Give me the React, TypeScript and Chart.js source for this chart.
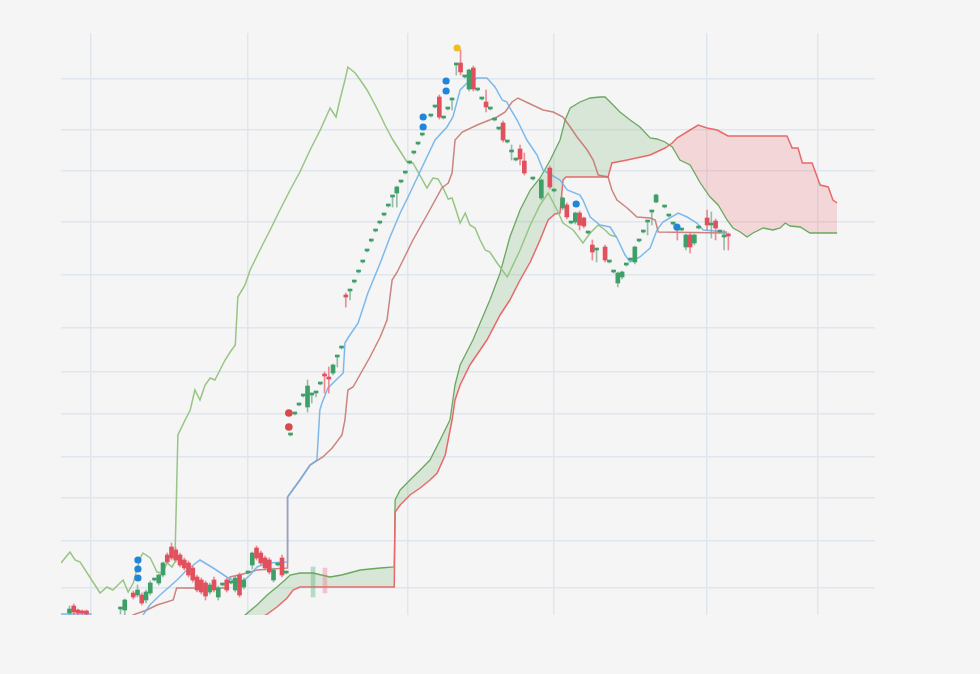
import React, { useEffect, useRef } from "react";
import { Chart, registerables } from "chart.js";
Chart.register(...registerables);

// ---- candles (index, open, high, low, close) ----
const candleIdx = [
  2, 3, 4, 5, 6, 14, 15, 17, 18, 19,
  20, 21, 22, 23, 24, 25, 26, 27, 28, 29,
  30, 31, 32, 33, 34, 35, 36, 37, 38, 39,
  40, 41, 42, 43, 44, 45, 46, 47, 48, 49,
  50, 51, 52, 53, 54, 55, 56, 57, 58, 59,
  60, 61, 62, 63, 64, 65, 66, 67, 68, 69,
  70, 71, 72, 73, 74, 75, 76, 77, 78, 79,
  80, 81, 82, 83, 84, 85, 87, 88, 89, 90,
  91, 92, 93, 94, 95, 96, 97, 98, 99, 100,
  101, 102, 103, 104, 105, 106, 107, 108, 109, 111,
  113, 115, 116, 118, 119, 120, 121, 122, 123, 124,
  125, 126, 128, 129, 130, 131, 132, 133, 134, 135,
  136, 137, 138, 139, 140, 142, 143, 144, 145, 146,
  147, 148, 149, 150, 152, 153, 154, 155, 156, 157,
];
const opens = [
  0.2, 0.9, 0.5, 0.4, 0.4, 0.6, 0.5, 2.2, 2.0, 2.0,
  1.5, 2.2, 3.5, 3.2, 4.0, 6.0, 6.8, 6.5, 6.0, 5.5,
  5.2, 4.7, 3.8, 3.5, 3.2, 2.3, 3.5, 1.8, 3.0, 3.5,
  3.2, 2.5, 4.0, 2.8, 4.2, 5.0, 6.7, 6.2, 5.7, 5.5,
  3.5, 5.0, 5.7, 4.2, 18.0, 20.1, 21.0, 21.9, 20.8, 22.0,
  22.2, 23.1, 24.1, 23.8, 24.2, 25.8, 26.7, 32.0, 32.4, 33.3,
  34.3, 35.3, 36.4, 37.4, 38.4, 39.2, 40.0, 40.9, 41.8, 42.2,
  43.3, 44.2, 45.2, 46.2, 47.1, 48.0, 49.9, 50.8, 51.8, 49.7,
  50.6, 51.5, 55.0, 55.2, 53.8, 52.6, 54.7, 52.5, 51.6, 51.3,
  50.6, 49.5, 48.6, 49.2, 47.3, 46.3, 45.5, 46.6, 45.4, 43.6,
  41.7, 44.7, 42.4, 40.7, 41.0, 39.2, 39.3, 40.2, 39.7, 38.2,
  37.0, 36.5, 36.8, 35.3, 34.3, 33.2, 33.8, 35.0, 35.5, 35.3,
  37.4, 38.3, 39.3, 40.3, 41.3, 40.8, 39.9, 39.1, 38.8, 38.5,
  36.8, 38.0, 37.2, 38.7, 39.7, 39.0, 39.4, 38.3, 37.8, 38.1,
];
const highs = [
  0.9, 1.1, 0.6, 0.5, 0.5, 0.8, 1.6, 2.4, 3.0, 2.2,
  2.5, 3.4, 3.6, 4.1, 5.3, 6.2, 7.2, 6.7, 6.2, 5.7,
  5.4, 4.9, 4.0, 3.7, 3.4, 3.2, 3.8, 2.9, 3.1, 3.7,
  3.3, 3.9, 4.2, 3.7, 4.3, 6.3, 6.9, 6.4, 5.9, 5.7,
  4.7, 5.1, 6.0, 4.3, 18.1, 20.2, 21.1, 22.0, 23.5, 22.2,
  22.3, 23.2, 24.3, 24.8, 25.1, 25.9, 26.8, 32.2, 32.5, 33.4,
  34.4, 35.4, 36.5, 37.5, 38.5, 39.3, 40.1, 41.0, 41.9, 42.9,
  43.4, 44.3, 45.3, 46.3, 47.2, 48.1, 50.0, 50.9, 52.0, 49.8,
  50.7, 51.7, 55.2, 56.5, 53.9, 54.6, 54.9, 52.6, 51.7, 52.5,
  50.7, 49.6, 48.7, 49.4, 47.4, 47.0, 45.6, 47.0, 46.2, 43.7,
  43.6, 44.9, 42.5, 41.8, 41.2, 39.3, 40.3, 40.4, 39.8, 38.3,
  37.5, 36.6, 37.0, 35.4, 34.4, 34.3, 34.4, 35.1, 35.6, 36.9,
  37.5, 38.4, 39.4, 40.4, 42.1, 40.9, 40.0, 39.2, 38.9, 38.6,
  38.1, 38.2, 38.1, 38.8, 40.5, 40.3, 39.6, 38.4, 38.5, 38.2,
];
const lows = [
  -0.3, -0.2, -0.2, -0.3, -0.3, 0.1, 0.0, 1.6, 1.8, 1.0,
  1.2, 2.0, 3.4, 3.0, 3.8, 5.2, 5.5, 5.3, 4.8, 4.5,
  3.8, 3.3, 2.3, 2.1, 1.5, 2.1, 2.3, 1.5, 2.9, 2.3,
  3.1, 2.3, 1.8, 2.6, 4.1, 4.6, 5.5, 5.0, 4.5, 4.1,
  3.3, 4.9, 3.8, 4.1, 17.9, 20.0, 20.9, 21.8, 20.3, 21.2,
  21.8, 23.0, 22.2, 22.2, 24.0, 24.8, 26.6, 30.8, 31.5, 33.2,
  34.2, 35.2, 36.3, 37.3, 38.3, 39.1, 39.9, 40.8, 40.8, 40.8,
  43.2, 44.1, 45.1, 46.1, 47.0, 47.9, 49.8, 50.7, 49.6, 49.6,
  50.5, 50.5, 54.0, 54.0, 53.7, 52.4, 52.4, 52.4, 51.5, 50.3,
  50.5, 49.4, 48.5, 47.3, 47.2, 45.5, 45.4, 45.0, 44.0, 43.5,
  41.5, 42.6, 42.3, 40.5, 39.6, 39.1, 39.1, 38.5, 38.7, 38.1,
  35.5, 35.3, 35.3, 35.2, 34.2, 32.8, 33.6, 34.9, 35.4, 35.1,
  37.3, 38.2, 38.0, 39.0, 41.2, 40.7, 39.8, 39.0, 37.5, 38.4,
  36.5, 36.2, 37.0, 38.6, 38.5, 37.7, 37.5, 38.2, 36.5, 36.5,
];
const closes = [
  0.6, 0.3, 0.2, 0.2, 0.1, 0.6, 1.5, 1.8, 2.5, 1.2,
  2.3, 3.2, 3.5, 4.0, 5.2, 5.3, 5.7, 5.5, 5.0, 4.7,
  4.0, 3.5, 2.5, 2.3, 1.9, 3.0, 2.5, 2.7, 3.0, 2.5,
  3.2, 3.7, 2.0, 3.5, 4.2, 6.2, 5.7, 5.2, 4.7, 4.3,
  4.5, 5.0, 4.0, 4.2, 18.0, 20.1, 21.0, 21.9, 22.9, 22.0,
  22.2, 23.1, 23.9, 23.6, 25.0, 25.8, 26.7, 31.8, 32.4, 33.3,
  34.3, 35.3, 36.4, 37.4, 38.4, 39.2, 40.0, 40.9, 41.8, 42.8,
  43.3, 44.2, 45.2, 46.2, 47.1, 48.0, 49.9, 50.8, 49.8, 49.7,
  50.6, 51.5, 55.0, 54.3, 53.8, 54.5, 52.6, 52.5, 51.6, 50.8,
  50.6, 49.5, 48.6, 47.5, 47.3, 46.3, 45.5, 45.6, 44.2, 43.6,
  43.5, 42.8, 42.4, 41.7, 39.8, 39.2, 40.2, 39.0, 38.9, 38.2,
  36.3, 36.5, 35.5, 35.3, 34.3, 34.2, 34.3, 35.0, 35.5, 36.8,
  37.4, 38.3, 39.3, 40.3, 42.0, 40.8, 39.9, 39.1, 38.5, 38.5,
  38.0, 36.8, 38.0, 38.7, 39.0, 39.0, 38.7, 38.3, 37.8, 37.9,
];

// faint (ghost) bars
const shadowIdx = [59.3, 62.1];
const shadowLow = [1.8, 2.2];
const shadowHigh = [4.8, 4.7];
const shadowUp = [true, false];

// ---- Ichimoku lines: [index, value] ----
const tenkan: [number, number][] = [
  [0, 0.1], [7, 0.1], [8, -1.5], [18, -1.5], [19.3, 0], [20.9, 1.0], [23.3, 2.0], [27.3, 3.5],
  [29.6, 4.5], [32.7, 5.5], [35.8, 4.7], [39, 3.8], [42.1, 3.1], [44.5, 4.0], [46.1, 4.8],
  [48.5, 5.2], [53.2, 5.3], [53.3, 11.8], [56.2, 13.5], [58.6, 15.0], [60.2, 15.5], [60.9, 20.5],
  [61.4, 21.2], [62.8, 22.7], [66.4, 24.2], [66.8, 27.2], [67.5, 27.7], [69.9, 29.2], [72.2, 32.2],
  [75.1, 35.2], [77.4, 37.8], [79.8, 40.2], [82.1, 42.2], [85.2, 45.0], [88, 47.5], [90.8, 48.8],
  [92.2, 49.8], [93.9, 52.5], [95.5, 53.2], [97.9, 53.7], [100.2, 53.7], [102.1, 52.8],
  [103.8, 51.5], [104.9, 51.3], [105.6, 50.7], [107.3, 49.5], [109.6, 47.5], [112, 46.0],
  [113.4, 44.5], [117.4, 43.5], [119.1, 42.5], [122.1, 42.0], [122.8, 41.5], [124.5, 39.8],
  [126.8, 39.0], [129.2, 38.8], [130.8, 37.7], [132.7, 36.0], [133.9, 35.3], [136.2, 35.8],
  [138.6, 36.7], [140.2, 38.5], [141.6, 39.3], [145.2, 40.2], [147.3, 39.8], [149.6, 39.2],
  [151.1, 38.5], [156.7, 38.3],
];
const kijun: [number, number][] = [
  [0, -2], [16, -1], [16.9, 0], [20.2, 0.5], [22.6, 1.0], [26.4, 1.5], [27.2, 2.7], [39, 2.7],
  [39.8, 3.8], [43.8, 4.2], [46.1, 4.5], [53.2, 4.7], [53.3, 11.8], [56.2, 13.5], [58.6, 15.0],
  [61.6, 15.8], [63.8, 16.7], [66.1, 18.0], [66.8, 19.5], [67.5, 22.5], [68.7, 22.8], [72.7, 25.8],
  [75.1, 27.8], [76.7, 29.5], [77.9, 33.5], [79.1, 34.3], [82.8, 37.5], [86.1, 40.0], [89.6, 42.7],
  [91.1, 43.2], [92, 44.2], [92.7, 47.5], [94.4, 48.3], [97.9, 49.0], [102.6, 49.8], [104.5, 50.3],
  [106.1, 51.3], [107.5, 51.7], [109.9, 51.2], [113.4, 50.5], [115.8, 50.3], [118.1, 49.8],
  [119.8, 48.8], [121.4, 47.8], [123.8, 46.5], [125.2, 45.5], [126.4, 44.0], [128.7, 43.8],
  [129.6, 42.5], [130.8, 41.5], [133.2, 40.7], [135.5, 39.8], [138.6, 39.7], [139.8, 39.5],
  [140.5, 38.3], [156.7, 38.2],
];
const chikou: [number, number][] = [
  [0, 5.2], [2.1, 6.3], [3.3, 5.5], [4.5, 5.3], [9.2, 2.2], [10.8, 2.8], [12.2, 2.5], [13.4, 3.0],
  [14.6, 3.5], [15.8, 2.3], [17, 3.2], [18.6, 5.7], [19.3, 6.2], [21, 5.7], [22.6, 4.3], [23.8, 4.2],
  [25, 5.2], [26.1, 4.8], [26.8, 5.3], [27.5, 18.0], [29.2, 19.5], [30.4, 20.5], [31.5, 22.5],
  [32.7, 21.5], [33.9, 23.0], [35.1, 23.7], [36.2, 23.5], [37.4, 24.5], [38.6, 25.5], [39.8, 26.3],
  [41, 27.0], [41.6, 31.8], [43.3, 33.0], [44.5, 34.5], [46.8, 36.5], [49.2, 38.5], [51.5, 40.5],
  [53.9, 42.5], [56.2, 44.3], [58.6, 46.5], [61, 48.5], [63.3, 50.7], [64.7, 49.8], [65.6, 51.5],
  [66.8, 53.5], [67.5, 54.8], [69.2, 54.2], [70.4, 53.5], [72, 52.5], [73.9, 51.0], [75.1, 50.0],
  [76.2, 49.0], [78.1, 47.5], [81.4, 45.3], [82.8, 45.2], [86.1, 42.7], [87.5, 43.7], [88.7, 43.6],
  [89.9, 42.7], [91.1, 41.6], [92, 41.7], [92.7, 40.8], [93.9, 39.2], [95.1, 40.2], [96.2, 39.0],
  [97.4, 38.7], [98.6, 37.5], [99.8, 36.5], [100.9, 36.3], [102.6, 35.2], [103.8, 34.5], [105, 33.8],
  [108, 36.5], [110.4, 39.0], [112.7, 41.0], [114.6, 42.2], [116.7, 40.5], [118.1, 39.2],
  [120.5, 38.5], [122.8, 37.2], [124.5, 38.2], [126.4, 39.0], [128, 38.5], [129.2, 38.0], [130.8, 37.8],
];
const spanA: [number, number][] = [
  [30, -3], [42.5, -0.5], [43.3, 0], [46.1, 1.0], [48.5, 2.0], [50.8, 2.8], [52.7, 3.5], [53.9, 4.0],
  [56.2, 4.2], [59.3, 4.2], [63.3, 3.8], [66, 4.0], [70.4, 4.5], [75.1, 4.7], [78.4, 4.8],
  [78.6, 11.5], [79.8, 12.5], [82.1, 13.5], [84.5, 14.5], [86.8, 15.5], [89.2, 17.5], [91.5, 19.5],
  [92.7, 23.0], [93.9, 25.0], [96.9, 27.5], [100.9, 31.5], [103.3, 34.2], [105.6, 37.8], [108, 40.5],
  [110.4, 42.5], [112.7, 43.7], [115.1, 45.5], [117.4, 47.5], [118.6, 49.5], [119.8, 50.7],
  [122.1, 51.3], [124.5, 51.7], [126.8, 51.8], [128, 51.8], [129.2, 51.3], [131.5, 50.3],
  [133.9, 49.5], [136.2, 48.8], [138.6, 47.7], [140.2, 47.6], [142.1, 47.3], [143.8, 46.8],
  [145.6, 45.5], [148, 45.0], [150.4, 43.2], [152.7, 41.8], [154.6, 41.0], [156.7, 39.5],
  [158.1, 38.7], [159.8, 38.3], [161.4, 37.8], [162.8, 38.2], [165.2, 38.7], [167.5, 38.5],
  [169.2, 38.7], [170.4, 39.2], [171.5, 38.9], [173.9, 38.8], [176.2, 38.2], [182.6, 38.2],
];
const spanB: [number, number][] = [
  [30, -4], [48.2, 0], [50.8, 0.8], [53.2, 1.7], [54.6, 2.5], [56.2, 2.8], [78.4, 2.8], [78.6, 10.3],
  [79.8, 11.0], [82.1, 12.0], [84.5, 12.7], [86.8, 13.5], [88.5, 14.2], [90.4, 16.0], [92, 19.5],
  [92.7, 21.5], [93.9, 23.0], [96.2, 25.0], [98.6, 26.5], [100.2, 27.5], [103.3, 30.0],
  [105.6, 31.5], [108, 33.5], [110.4, 35.3], [112.7, 37.5], [114.6, 39.5], [116.2, 40.1],
  [117.4, 40.2], [118.1, 43.5], [118.8, 43.8], [128.7, 43.8], [129.6, 45.2], [133.2, 45.5],
  [138.6, 46.0], [142.1, 46.7], [143.8, 47.2], [144.9, 47.7], [148, 48.5], [149.9, 49.0],
  [152, 48.7], [154.4, 48.5], [156.9, 47.9], [170.8, 47.9], [172, 46.7], [173.4, 46.7],
  [174.4, 45.2], [176.7, 45.2], [178.6, 43.0], [180.5, 42.8], [181.6, 41.5], [182.6, 41.2],
];

// ---- signal markers ----
const blueMarkX = [18.1, 18.1, 18.1, 85.2, 85.2, 90.6, 90.6, 121.2, 144.9];
const blueMarkY = [5.5, 4.6, 3.7, 49.8, 48.8, 53.4, 52.4, 41.1, 38.8];
const redMarkX = [53.6, 53.6];
const redMarkY = [20.2, 18.8];
const goldMarkX = [93.2];
const goldMarkY = [56.7];

// ---- grid ticks ----
const xGrid = [7, 44, 81.5, 116, 152, 178];
const yGrid = [2.7, 7.4, 11.7, 15.8, 20.1, 24.3, 28.7, 34.0, 39.3, 44.4, 48.5, 53.6];

const BG = "#f5f5f5";
const GRID = "#e0e6ed";
const UP = "#3f9f69";
const DOWN = "#e1505d";

const pts = (arr: [number, number][]) => arr.map(([x, y]) => ({ x, y }));

export default function App() {
  const ref = useRef<HTMLCanvasElement>(null);
  useEffect(() => {
    document.body.style.margin = "0";
    document.body.style.background = BG;
    const isUp = candleIdx.map((_, k) => closes[k] >= opens[k]);
    const datasets: any[] = [
      {
        type: "bar",
        data: candleIdx.map((x, k) => ({ x, y: [opens[k], closes[k]] })),
        backgroundColor: isUp.map((u) => (u ? UP : DOWN)),
        barThickness: 4,
        minBarLength: 2,
        grouped: false,
        clip: 0,
        order: 2,
      },
      {
        type: "bar",
        data: candleIdx.map((x, k) => ({ x, y: [lows[k], highs[k]] })),
        backgroundColor: isUp.map((u) => (u ? "rgba(120,170,145,0.75)" : "rgba(236,120,132,0.85)")),
        barThickness: 1,
        grouped: false,
        clip: 0,
        order: 3,
      },
      {
        type: "bar",
        data: shadowIdx.map((x, k) => ({ x, y: [shadowLow[k], shadowHigh[k]] })),
        backgroundColor: shadowUp.map((u) => (u ? "rgba(70,170,110,0.35)" : "rgba(235,110,125,0.35)")),
        barThickness: 4,
        grouped: false,
        clip: 0,
        order: 3,
      },
      {
        type: "line",
        data: pts(tenkan),
        borderColor: "rgba(110,178,235,0.9)",
        borderWidth: 1.5,
        pointRadius: 0,
        order: 4,
      },
      {
        type: "line",
        data: pts(kijun),
        borderColor: "rgba(196,112,105,0.85)",
        borderWidth: 1.5,
        pointRadius: 0,
        order: 5,
      },
      {
        type: "line",
        data: pts(chikou),
        borderColor: "#97c583",
        borderWidth: 1.5,
        pointRadius: 0,
        order: 6,
      },
      {
        type: "line",
        data: pts(spanB),
        borderColor: "#e8696a",
        borderWidth: 1.5,
        pointRadius: 0,
        order: 7,
      },
      {
        type: "line",
        data: pts(spanA),
        borderColor: "#6aa85e",
        borderWidth: 1.3,
        pointRadius: 0,
        fill: { target: 6, above: "rgba(100,170,95,0.2)", below: "rgba(235,105,110,0.22)" },
        order: 8,
      },
      {
        type: "line",
        showLine: false,
        data: blueMarkX.map((x, k) => ({ x, y: blueMarkY[k] })),
        pointRadius: 3.6,
        pointBorderWidth: 0,
        pointBackgroundColor: "#1f86dc",
        order: 1,
      },
      {
        type: "line",
        showLine: false,
        data: redMarkX.map((x, k) => ({ x, y: redMarkY[k] })),
        pointRadius: 3.8,
        pointBorderWidth: 0,
        pointBackgroundColor: "#d64a4c",
        order: 1,
      },
      {
        type: "line",
        showLine: false,
        data: goldMarkX.map((x, k) => ({ x, y: goldMarkY[k] })),
        pointRadius: 3.6,
        pointBorderWidth: 0,
        pointBackgroundColor: "#f0be1e",
        order: 1,
      },
    ];
    const chart = new Chart(ref.current as HTMLCanvasElement, {
      type: "bar",
      data: { datasets },
      options: {
        animation: false,
        responsive: false,
        maintainAspectRatio: false,
        events: [],
        layout: { padding: { left: 61, right: 105, top: 33, bottom: 59 } },
        plugins: { legend: { display: false }, tooltip: { enabled: false } },
        scales: {
          x: {
            type: "linear",
            min: 0,
            max: 191.5,
            offset: false,
            grid: { color: GRID, lineWidth: 1.5, drawTicks: false, offset: false },
            border: { display: false },
            ticks: { display: false },
            afterBuildTicks: (s: any) => {
              s.ticks = xGrid.map((v) => ({ value: v }));
            },
          },
          y: {
            type: "linear",
            min: 0,
            max: 58.2,
            grid: { color: GRID, lineWidth: 1.5, drawTicks: false },
            border: { display: false },
            ticks: { display: false },
            afterBuildTicks: (s: any) => {
              s.ticks = yGrid.map((v) => ({ value: v }));
            },
          },
        },
      } as any,
    });
    return () => chart.destroy();
  }, []);
  return (
    <div style={{ position: "fixed", left: 0, top: 0, width: 980, height: 674, background: BG }}>
      <canvas ref={ref} width={980} height={674} style={{ display: "block" }} />
    </div>
  );
}
